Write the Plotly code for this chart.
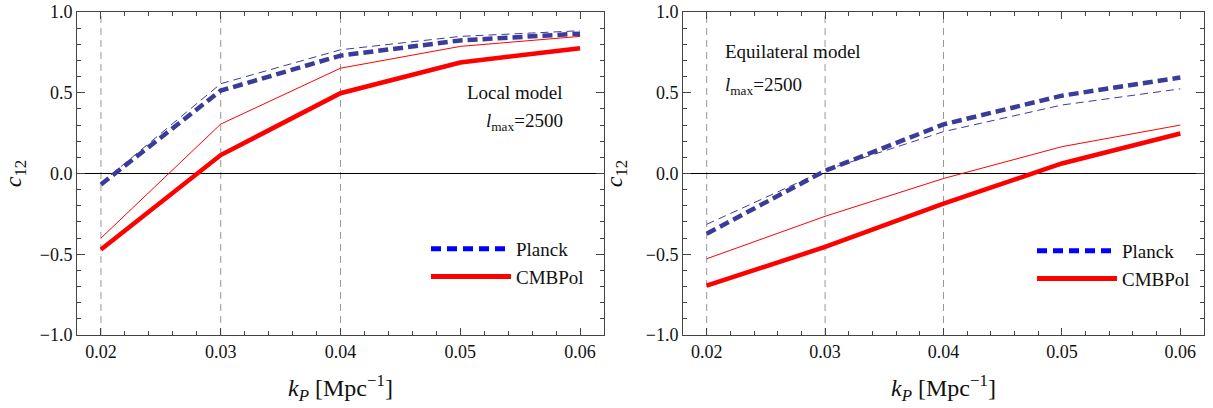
import plotly.graph_objects as go

# ---- data ----
k_p = [0.02, 0.03, 0.04, 0.05, 0.06]

local_planck_thick = [-0.068, 0.513, 0.730, 0.824, 0.866]
local_planck_thin = [-0.060, 0.556, 0.766, 0.849, 0.884]
local_cmbpol_thick = [-0.470, 0.114, 0.497, 0.687, 0.776]
local_cmbpol_thin = [-0.400, 0.306, 0.652, 0.787, 0.849]

equil_planck_thick = [-0.373, 0.017, 0.304, 0.482, 0.594]
equil_planck_thin = [-0.315, 0.020, 0.259, 0.424, 0.524]
equil_cmbpol_thick = [-0.694, -0.455, -0.186, 0.062, 0.248]
equil_cmbpol_thin = [-0.528, -0.265, -0.031, 0.166, 0.300]

grid_x = [0.02, 0.03, 0.04]
x_ticks = [0.02, 0.03, 0.04, 0.05, 0.06]
x_tick_labels = ["0.02", "0.03", "0.04", "0.05", "0.06"]
y_ticks = [-1.0, -0.5, 0.0, 0.5, 1.0]
y_tick_labels = ["\u22121.0", "\u22120.5", "0.0", "0.5", "1.0"]

FONT = "Liberation Serif"
LINE_BLUE = "#3b3b9a"
RED = "#ff0000"
FRAME = "#444444"
TXT = "#111111"

W, H = 1213, 408


def fx(px):
    return px / W


def fy(py):
    return 1 - py / H


fig = go.Figure()

panels = [
    ("x", "y", local_planck_thick, local_planck_thin, local_cmbpol_thick, local_cmbpol_thin, "legend"),
    ("x2", "y2", equil_planck_thick, equil_planck_thin, equil_cmbpol_thick, equil_cmbpol_thin, "legend2"),
]

for xa, ya, pth, ptn, cth, ctn, lg in panels:
    fig.add_trace(go.Scatter(x=k_p, y=ctn, mode="lines", xaxis=xa, yaxis=ya,
                             line=dict(color=RED, width=1), showlegend=False))
    fig.add_trace(go.Scatter(x=k_p, y=ptn, mode="lines", xaxis=xa, yaxis=ya,
                             line=dict(color=LINE_BLUE, width=1, dash="8px,5px"), showlegend=False))
    fig.add_trace(go.Scatter(x=k_p, y=cth, mode="lines", xaxis=xa, yaxis=ya,
                             line=dict(color=RED, width=4.5), showlegend=False))
    fig.add_trace(go.Scatter(x=k_p, y=pth, mode="lines", xaxis=xa, yaxis=ya,
                             line=dict(color=LINE_BLUE, width=4.5, dash="10px,5px"), showlegend=False))
    # legend-only entries
    fig.add_trace(go.Scatter(x=[None], y=[None], mode="lines", xaxis=xa, yaxis=ya, name="Planck",
                             line=dict(color="#0000ff", width=5, dash="10px,6px"), legend=lg))
    fig.add_trace(go.Scatter(x=[None], y=[None], mode="lines", xaxis=xa, yaxis=ya, name="CMBPol",
                             line=dict(color=RED, width=5), legend=lg))
    for gx in grid_x:
        fig.add_shape(type="line", xref=xa, yref=ya + " domain", x0=gx, x1=gx, y0=0, y1=1,
                      line=dict(color="#999999", width=1, dash="7px,5px"), layer="below")

xaxis_common = dict(
    range=[0.0180, 0.0620], tickvals=x_ticks, ticktext=x_tick_labels,
    ticks="inside", ticklen=7, tickwidth=1, tickcolor=FRAME,
    showline=True, linecolor=FRAME, linewidth=1, mirror="ticks",
    showgrid=False, zeroline=False, automargin=False, ticklabeloverflow="allow",
    tickfont=dict(family=FONT, size=18, color=TXT),
    minor=dict(dtick=0.002, tick0=0.02, ticks="inside", ticklen=4, tickcolor=FRAME, showgrid=False),
    title=dict(text="<i>k<sub>P</sub></i> [Mpc<sup>\u22121</sup>]",
               font=dict(family=FONT, size=24, color=TXT), standoff=18),
)
yaxis_common = dict(
    range=[-1.0, 1.0], tickvals=y_ticks, ticktext=y_tick_labels,
    ticks="inside", ticklen=8, tickwidth=1, tickcolor=FRAME,
    showline=True, linecolor=FRAME, linewidth=1, mirror="ticks",
    showgrid=False, zeroline=True, zerolinecolor="#000000", zerolinewidth=1,
    automargin=False, ticklabeloverflow="allow",
    tickfont=dict(family=FONT, size=18, color=TXT),
    minor=dict(dtick=0.1, tick0=0.0, ticks="inside", ticklen=4, tickcolor=FRAME, showgrid=False),
    title=dict(text="<i>c</i><sub>12</sub>", font=dict(family=FONT, size=24, color=TXT), standoff=16),
)

legend_common = dict(xanchor="left", yanchor="top", bgcolor="rgba(0,0,0,0)",
                     font=dict(family=FONT, size=19, color=TXT), itemwidth=80, tracegroupgap=0)

fig.update_layout(
    width=W, height=H,
    margin=dict(l=0, r=0, t=0, b=0),
    paper_bgcolor="white", plot_bgcolor="white",
    xaxis=dict(domain=[fx(77), fx(604)], anchor="y", **xaxis_common),
    yaxis=dict(domain=[fy(335), fy(12)], anchor="x", **yaxis_common),
    xaxis2=dict(domain=[fx(683), fx(1204)], anchor="y2", **xaxis_common),
    yaxis2=dict(domain=[fy(335), fy(12)], anchor="x2", **yaxis_common),
    legend=dict(x=fx(426), y=fy(230), **legend_common),
    legend2=dict(x=fx(1032), y=fy(232), **legend_common),
    showlegend=True,
)

ann_font = dict(family=FONT, size=19, color=TXT)
fig.add_annotation(text="Local model", xref="paper", yref="paper", x=fx(565), y=fy(93),
                   xanchor="right", yanchor="middle", showarrow=False, font=ann_font)
fig.add_annotation(text="<i>l</i><sub>max</sub>=2500", xref="paper", yref="paper", x=fx(565), y=fy(122),
                   xanchor="right", yanchor="middle", showarrow=False, font=ann_font)
fig.add_annotation(text="Equilateral model", xref="paper", yref="paper", x=fx(723), y=fy(51),
                   xanchor="left", yanchor="middle", showarrow=False, font=ann_font)
fig.add_annotation(text="<i>l</i><sub>max</sub>=2500", xref="paper", yref="paper", x=fx(723), y=fy(86),
                   xanchor="left", yanchor="middle", showarrow=False, font=ann_font)

fig.write_html("out.html", config=dict(displayModeBar=False),
               post_script="document.body.style.margin='0px'; document.body.style.overflow='hidden';")
